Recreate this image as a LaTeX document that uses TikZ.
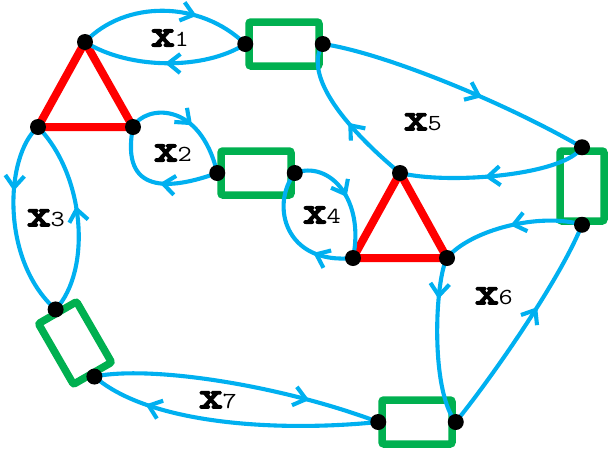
\documentclass[tikz,border=0pt]{standalone}
\usepackage{fontspec}
\newfontfamily\heavyx[FakeBold=4.5]{Latin Modern Mono}
\usepackage{tikz}
\usetikzlibrary{arrows.meta,decorations.markings}
\definecolor{flowblue}{RGB}{0,176,240}
\definecolor{boxgreen}{RGB}{0,176,80}
\newcommand{\flowname}[1]{\scalebox{1.2}[1]{{\heavyx\fontsize{38}{38}\selectfont x}{\ttfamily\fontsize{23}{23}\selectfont #1}}}

\begin{document}
\begin{tikzpicture}[x=1pt, y=-1pt,
                    flow/.style={draw=flowblue, line width=4.1pt, postaction={decorate},
                      decoration={markings, mark=at position #1 with {\arrow{Straight Barb[length=12pt,width=19pt]}}}},
                    flow/.default=0.5,
                    boxx/.style={rectangle, draw=boxgreen, line width=7.5pt, rounded corners=2pt, minimum width=70pt, minimum height=44pt, inner sep=0pt},
                    tri/.style={draw=red, line width=8pt, line join=round},
                    dott/.style={circle, fill=black, minimum size=16pt, inner sep=0pt},
                    lbl/.style={inner sep=0pt}]
        \useasboundingbox (0,0) rectangle (611,448);
        % triangle corners
        \coordinate (LeftTop) at (85,42);
        \coordinate (LeftBL) at (38,127);
        \coordinate (LeftBR) at (133,127);
        \coordinate (MidTop) at (400,173);
        \coordinate (MidBL) at (353,258);
        \coordinate (MidBR) at (447,258);

        \node (TopBox) [boxx] at (284,44) {};
        \node (MidBox) [boxx] at (256,173) {};
        \node (RightBox) [boxx, rotate=-90] at (582,186) {};
        \node (BottomBox) [boxx] at (417,422) {};
        \node (SlantBox) [boxx, rotate=-60] at (75,343) {};

        \draw[tri] (LeftTop) -- (LeftBL) -- (LeftBR) -- cycle;
        \draw[tri] (MidTop) -- (MidBL) -- (MidBR) -- cycle;

        % x1
        \draw[flow=0.68] (LeftTop) .. controls (125,0) and (200,0) .. (TopBox.west);
        \draw[flow] (TopBox.west) .. controls (205,70) and (130,70) .. (LeftTop);
        % x2
        \draw[flow=0.55] (LeftBR) .. controls (145,105) and (200,100) .. (MidBox.west);
        \draw[flow=0.45] (MidBox.west) .. controls (170,190) and (120,195) .. (LeftBR);
        % x3
        \draw[flow=0.35] (LeftBL) .. controls (5,155) and (0,260) .. (SlantBox.west);
        \draw[flow=0.55] (SlantBox.west) .. controls (92,270) and (85,175) .. (LeftBL);
        % x4
        \draw[flow] (MidBox.east) .. controls (330,160) and (365,200) .. (MidBL);
        \draw[flow=0.3] (MidBL) .. controls (285,265) and (270,205) .. (MidBox.east);
        % x5
        \draw[flow=0.6] (TopBox.east) .. controls (380,52) and (500,100) .. (RightBox.west);
        \draw[flow=0.55] (RightBox.west) .. controls (565,175) and (450,185) .. (MidTop);
        \draw[flow=0.45] (MidTop) .. controls (360,140) and (300,80) .. (TopBox.east);
        % x6
        \draw[flow] (RightBox.east) .. controls (540,212) and (470,230) .. (MidBR);
        \draw[flow=0.25] (MidBR) .. controls (435,280) and (430,390) .. (BottomBox.east);
        \draw[flow=0.6] (BottomBox.east) .. controls (490,380) and (560,280) .. (RightBox.east);
        % x7
        \draw[flow=0.75] (SlantBox.east) .. controls (150,365) and (280,385) .. (BottomBox.west);
        \draw[flow=0.8] (BottomBox.west) .. controls (280,432) and (150,425) .. (SlantBox.east);

        \foreach \p in {LeftTop,LeftBL,LeftBR,MidTop,MidBL,MidBR,
                        TopBox.west,TopBox.east,MidBox.west,MidBox.east,
                        RightBox.west,RightBox.east,BottomBox.west,BottomBox.east,
                        SlantBox.west,SlantBox.east}
            \node[dott] at (\p) {};

        \node (LabelOne) [lbl] at (170,38) {\flowname{1}};
        \node (LabelTwo) [lbl] at (173,153) {\flowname{2}};
        \node (LabelThree) [lbl] at (46,218) {\flowname{3}};
        \node (LabelFour) [lbl] at (322,215) {\flowname{4}};
        \node (LabelFive) [lbl] at (423,122) {\flowname{5}};
        \node (LabelSix) [lbl] at (494,296) {\flowname{6}};
        \node (LabelSeven) [lbl] at (218,400) {\flowname{7}};
\end{tikzpicture}
\end{document}
